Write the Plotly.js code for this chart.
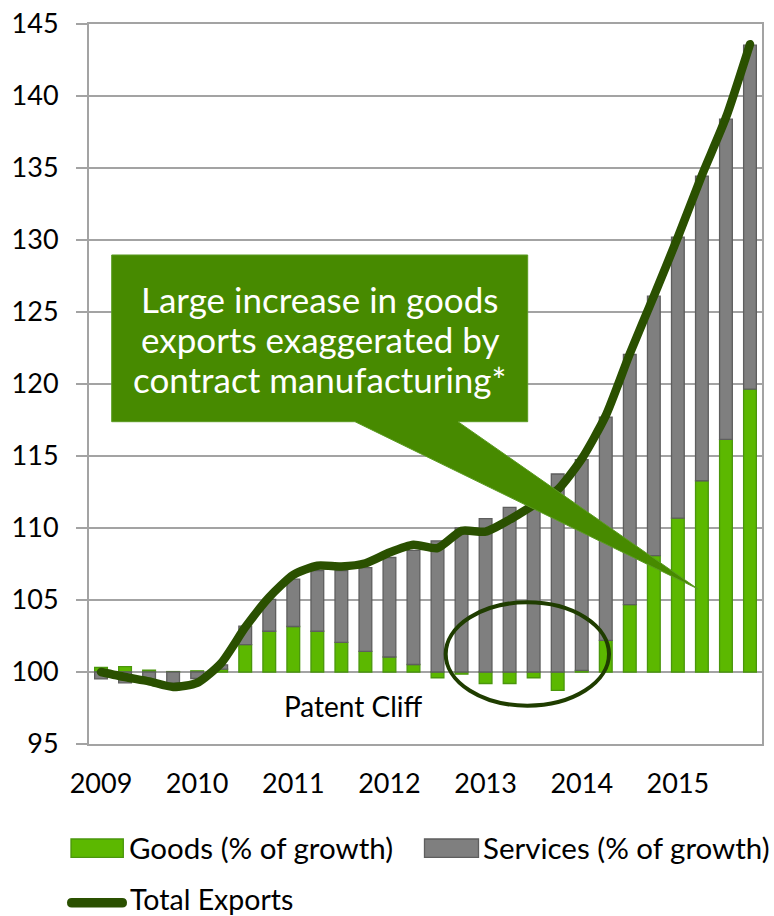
<!DOCTYPE html>
<html>
<head>
<meta charset="utf-8">
<script src="https://cdn.plot.ly/plotly-3.0.1.min.js"></script>
<style>
  html, body { margin: 0; padding: 0; background: #ffffff; }
  #chart { width: 774px; height: 916px; }
  .scatterlayer .js-line { stroke-linecap: round !important; stroke-linejoin: round !important; }
</style>
</head>
<body>
<div id="chart"></div>
<script>
// ---- Data (index, 2009 Q1 = 100) ----
const quarters = [
  '2009 Q1','2009 Q2','2009 Q3','2009 Q4',
  '2010 Q1','2010 Q2','2010 Q3','2010 Q4',
  '2011 Q1','2011 Q2','2011 Q3','2011 Q4',
  '2012 Q1','2012 Q2','2012 Q3','2012 Q4',
  '2013 Q1','2013 Q2','2013 Q3','2013 Q4',
  '2014 Q1','2014 Q2','2014 Q3','2014 Q4',
  '2015 Q1','2015 Q2','2015 Q3','2015 Q4'
];
// Contribution of goods to growth (percentage points above/below 100)
const goods = [
  0.32, 0.37, 0.12, 0.03,
  0.08, 0.20, 1.90, 2.83,
  3.16, 2.83, 2.06, 1.43,
  1.04, 0.52, -0.40, -0.15,
  -0.80, -0.80, -0.40, -1.28,
  0.11, 2.19, 4.68, 8.08,
  10.69, 13.28, 16.15, 19.65
];
// Contribution of services to growth (percentage points)
const services = [
  -0.48, -0.75, -0.55, -0.75,
  -0.45, 0.30, 1.28, 2.22,
  3.29, 4.22, 4.99, 5.82,
  6.91, 7.93, 9.10, 10.00,
  10.65, 11.43, 12.00, 13.75,
  14.64, 15.51, 17.37, 18.02,
  19.51, 21.16, 22.24, 23.88
];
// Total exports index
const totalExports = [
  100.0, 99.65, 99.35, 98.96,
  99.24, 100.62, 103.1, 105.2,
  106.75, 107.38, 107.33, 107.55,
  108.3, 108.84, 108.6, 109.8,
  109.75, 110.58, 111.6, 112.66,
  114.8, 117.8, 122.1, 126.1,
  130.2, 134.5, 138.5, 143.6
];
const yearTickQuarters = ['2009 Q1','2010 Q1','2011 Q1','2012 Q1','2013 Q1','2014 Q1','2015 Q1'];
const yearTickLabels = ['2009','2010','2011','2012','2013','2014','2015'];
const seriesNames = ['Goods (% of growth)', 'Services (% of growth)', 'Total Exports'];
const calloutLines = ['Large increase in goods', 'exports exaggerated by', 'contract manufacturing*'];
const cliffText = 'Patent Cliff';
const baseIndex = 100;

// ---- Styles ----
const FONT = 'Lato, "Open Sans", sans-serif';
const GREEN = '#5cb800', GREEN_EDGE = '#4a960c';
const GREY = '#7f7f7f', GREY_EDGE = '#5e5e5e';
const LINE = '#2a5000';
const CALLOUT = '#478a00';
const GRID = '#a3a3a3';

// Stacking like a spreadsheet: positives stack upward from 100, negatives downward
const goodsBase = goods.map(() => baseIndex);
const servicesBase = services.map((s, i) =>
  s >= 0 ? baseIndex + Math.max(goods[i], 0) : baseIndex + Math.min(goods[i], 0));

const traces = [
  {
    type: 'bar', name: seriesNames[0], x: quarters, y: goods, base: goodsBase,
    width: 0.53, marker: { color: GREEN, line: { color: GREEN_EDGE, width: 1.3 } },
    showlegend: false, hoverinfo: 'skip'
  },
  {
    type: 'bar', name: seriesNames[1], x: quarters, y: services, base: servicesBase,
    width: 0.53, marker: { color: GREY, line: { color: GREY_EDGE, width: 1.3 } },
    showlegend: false, hoverinfo: 'skip'
  },
  {
    type: 'scatter', mode: 'lines', name: seriesNames[2], x: quarters, y: totalExports,
    line: { color: LINE, width: 8.5, shape: 'spline', smoothing: 0.6 },
    showlegend: false, hoverinfo: 'skip'
  }
];

// pixel -> paper helpers (plot area: x 89..762, y 24..744)
const L = 89, T = 24, W = 673, H = 720;
const px = x => (x - L) / W;
const py = y => (T + H - y) / H;
const P = (x, y) => px(x).toFixed(5) + ',' + py(y).toFixed(5);

function roundBar(x0, x1, yc, h) {
  const r = h / 2, y0 = yc - r, y1 = yc + r;
  return 'M' + P(x0 + r, y0) + ' L' + P(x1 - r, y0) +
    ' Q' + P(x1, y0) + ' ' + P(x1, yc) + ' Q' + P(x1, y1) + ' ' + P(x1 - r, y1) +
    ' L' + P(x0 + r, y1) + ' Q' + P(x0, y1) + ' ' + P(x0, yc) +
    ' Q' + P(x0, y0) + ' ' + P(x0 + r, y0) + ' Z';
}

const shapes = [
  // Callout with pointer
  {
    type: 'path', xref: 'paper', yref: 'paper', layer: 'above',
    path: 'M' + P(111.7, 255) + ' L' + P(527.7, 255) + ' L' + P(527.7, 421.7) +
          ' L' + P(458, 421.7) + ' L' + P(698, 589) + ' L' + P(355, 421.7) +
          ' L' + P(111.7, 421.7) + ' Z',
    fillcolor: CALLOUT, line: { color: '#5b9b22', width: 1 }
  },
  // Patent cliff ellipse
  {
    type: 'circle', xref: 'paper', yref: 'paper', layer: 'above',
    x0: px(445.7), x1: px(609), y0: py(705.7), y1: py(602.3),
    fillcolor: 'rgba(0,0,0,0)', line: { color: '#1f3d00', width: 4 }
  },
  // Legend symbols
  {
    type: 'rect', xref: 'paper', yref: 'paper',
    x0: px(71), x1: px(123.3), y0: py(857.3), y1: py(839),
    fillcolor: GREEN, line: { color: GREEN_EDGE, width: 1.3 }
  },
  {
    type: 'rect', xref: 'paper', yref: 'paper',
    x0: px(424.5), x1: px(478.5), y0: py(857.3), y1: py(839),
    fillcolor: GREY, line: { color: GREY_EDGE, width: 1.3 }
  },
  {
    type: 'path', xref: 'paper', yref: 'paper',
    path: roundBar(67, 127, 902.7, 9.5),
    fillcolor: LINE, line: { color: LINE, width: 0 }
  }
];

const calloutY = [299, 339, 379];
const annotations = calloutLines.map((t, i) => ({
  xref: 'paper', yref: 'paper', x: px(319.7), y: py(calloutY[i]), xanchor: 'center', yanchor: 'middle',
  text: t, showarrow: false, align: 'center',
  font: { family: FONT, size: 35, color: '#ffffff' }
})).concat([
  {
    xref: 'paper', yref: 'paper', x: px(353), y: py(706), xanchor: 'center', yanchor: 'middle',
    text: cliffText, showarrow: false,
    font: { family: FONT, size: 28, color: '#000000' }
  },
  {
    xref: 'paper', yref: 'paper', x: px(127), y: py(847.5), xanchor: 'left', yanchor: 'middle',
    text: seriesNames[0], showarrow: false,
    font: { family: FONT, size: 29.5, color: '#000000' }
  },
  {
    xref: 'paper', yref: 'paper', x: px(480.5), y: py(847.5), xanchor: 'left', yanchor: 'middle',
    text: seriesNames[1], showarrow: false,
    font: { family: FONT, size: 29.5, color: '#000000' }
  },
  {
    xref: 'paper', yref: 'paper', x: px(128), y: py(898.5), xanchor: 'left', yanchor: 'middle',
    text: seriesNames[2], showarrow: false,
    font: { family: FONT, size: 28.5, color: '#000000' }
  }
]);

const layout = {
  width: 774, height: 916,
  margin: { l: L, r: 774 - L - W, t: T, b: 916 - T - H, pad: 0 },
  paper_bgcolor: '#ffffff', plot_bgcolor: '#ffffff',
  barmode: 'overlay',
  showlegend: false,
  font: { family: FONT, color: '#000000' },
  xaxis: {
    type: 'category', categoryorder: 'array', categoryarray: quarters,
    range: [-0.5, quarters.length - 0.5],
    tickmode: 'array', tickvals: yearTickQuarters, ticktext: yearTickLabels,
    ticks: '', ticklabelstandoff: 15,
    tickfont: { family: FONT, size: 27, color: '#000000' },
    showgrid: false, zeroline: false,
    showline: true, mirror: true, linecolor: GRID, linewidth: 2,
    fixedrange: true
  },
  yaxis: {
    range: [95, 145], tickmode: 'linear', tick0: 95, dtick: 5,
    ticks: 'outside', ticklen: 11, tickwidth: 2, tickcolor: GRID,
    ticklabelstandoff: 12,
    tickfont: { family: FONT, size: 27, color: '#000000' },
    showgrid: true, gridcolor: GRID, gridwidth: 2,
    zeroline: false,
    showline: true, mirror: true, linecolor: GRID, linewidth: 2,
    fixedrange: true
  },
  shapes: shapes,
  annotations: annotations
};

Plotly.newPlot('chart', traces, layout, { staticPlot: true, displayModeBar: false });
</script>
</body>
</html>
